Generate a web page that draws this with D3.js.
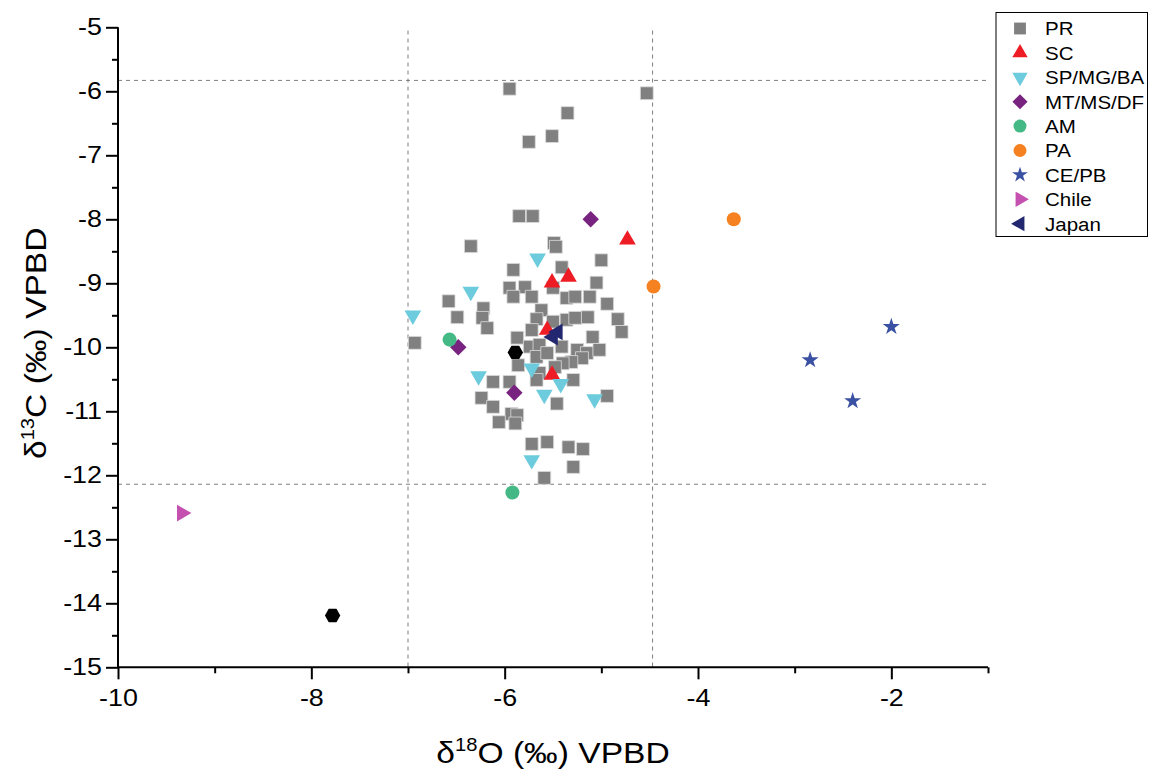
<!DOCTYPE html>
<html>
<head>
<meta charset="utf-8">
<script src="https://cdn.jsdelivr.net/npm/d3@7"></script>
<style>
  body { margin: 0; background: #fff; }
  text { font-family: "Liberation Sans", Arial, sans-serif; }
</style>
</head>
<body>
<div id="chart-area"></div>
<script>
// d18O / d13C values, one pair of arrays per group
const prO = [-5.95,-4.53,-5.35,-5.51,-5.75,-5.85,-5.71,-6.35,-5.49,-5.47,-5.00,-5.41,-5.91,-5.95,-5.79,-5.91,-5.72,-5.50,-5.05,-5.36,
             -5.27,-5.12,-4.94,-6.58,-6.49,-6.22,-6.23,-6.18,-6.93,-5.62,-5.67,-5.72,-5.50,-5.36,-5.27,-5.14,-5.09,-4.83,-4.79,-5.87,
             -5.74,-5.64,-5.67,-5.56,-5.41,-5.25,-5.15,-5.02,-5.20,-5.31,-5.40,-5.48,-5.86,-5.64,-5.67,-5.29,-6.12,-5.95,-6.24,-6.12,
             -5.46,-4.94,-5.93,-5.87,-6.06,-5.89,-5.72,-5.56,-5.34,-5.19,-5.29,-5.59];
const prC = [-5.96,-6.03,-6.34,-6.70,-6.79,-7.95,-7.95,-8.42,-8.37,-8.43,-8.64,-8.75,-8.79,-9.07,-9.06,-9.21,-9.21,-9.07,-8.99,-9.23,
             -9.21,-9.21,-9.32,-9.28,-9.53,-9.39,-9.54,-9.70,-9.93,-9.42,-9.56,-9.73,-9.60,-9.57,-9.54,-9.53,-9.84,-9.56,-9.76,-9.85,
             -9.99,-9.96,-10.15,-10.09,-9.99,-10.04,-10.09,-10.04,-10.17,-10.23,-10.25,-10.31,-10.28,-10.40,-10.51,-10.51,-10.54,-10.54,-10.79,-10.93,
             -10.88,-10.76,-11.04,-11.06,-11.17,-11.19,-11.51,-11.48,-11.56,-11.59,-11.87,-12.04];
const scO = [-4.73,-5.51,-5.34,-5.56,-5.51];
const scC = [-8.32,-8.99,-8.90,-9.73,-10.43];
const spO = [-6.95,-6.35,-5.66,-5.72,-6.27,-5.42,-5.59,-5.07,-5.72];
const spC = [-9.50,-9.13,-8.61,-10.33,-10.45,-10.57,-10.74,-10.81,-11.76];
const mtO = [-5.11,-6.48,-5.90];
const mtC = [-8.00,-10.00,-10.71];
const amO = [-6.57,-5.92];
const amC = [-9.88,-12.27];
const paO = [-3.63,-4.46];
const paC = [-8.00,-9.05];
const ceO = [-2.84,-2.00,-2.40];
const ceC = [-10.20,-9.68,-10.84];
const chO = [-9.34];
const chC = [-12.59];
const jpO = [-5.45,-5.50];
const jpC = [-9.76,-9.84];
const refO = [-5.89,-7.78];          // black hexagons, not in the legend
const refC = [-10.08,-14.19];

const xMajor = [-10,-8,-6,-4,-2];
const xMinor = [-9,-7,-5,-3,-1];
const yMajor = [-15,-14,-13,-12,-11,-10,-9,-8,-7,-6,-5];
const yMinor = [-14.5,-13.5,-12.5,-11.5,-10.5,-9.5,-8.5,-7.5,-6.5,-5.5];
const vLines = [-7, -4.47];
const hLines = [-5.83, -12.14];

// hexagon symbol (d3 has none)
const symbolHex = {
    draw(ctx, size){
        const r = Math.sqrt(size / (1.5 * Math.sqrt(3)));
        for (let i = 0; i < 6; i++) {
            const a = Math.PI / 3 * i;
            const px = r * Math.cos(a), py = r * Math.sin(a);
            i ? ctx.lineTo(px, py) : ctx.moveTo(px, py);
        }
        ctx.closePath();
    }
};

const series = [
    { name:"PR",       o:prO, c:prC, color:"#808080", type:d3.symbolSquare,   size:165, rot:0,   stroke:"#dcdcdc" },
    { name:"SC",       o:scO, c:scC, color:"#ee1c25", type:d3.symbolTriangle, size:120, rot:0 },
    { name:"SP/MG/BA", o:spO, c:spC, color:"#6ccbdc", type:d3.symbolTriangle, size:120, rot:180 },
    { name:"MT/MS/DF", o:mtO, c:mtC, color:"#78237f", type:d3.symbolSquare,   size:135, rot:45 },
    { name:"AM",       o:amO, c:amC, color:"#45b985", type:d3.symbolCircle,   size:155, rot:0 },
    { name:"PA",       o:paO, c:paC, color:"#f68121", type:d3.symbolCircle,   size:155, rot:0 },
    { name:"CE/PB",    o:ceO, c:ceC, color:"#3a51a3", type:d3.symbolStar,     size:90,  rot:0 },
    { name:"Chile",    o:chO, c:chC, color:"#c451b0", type:d3.symbolTriangle, size:120, rot:90 },
    { name:"Japan",    o:jpO, c:jpC, color:"#232770", type:d3.symbolTriangle, size:120, rot:-90 },
    { name:null,       o:refO, c:refC, color:"#000000", type:symbolHex,       size:155, rot:0 }
];

const TX = 1.12;   // text in the figure runs a little wide

const margin = { left:118, right:162, top:27.3, bottom:104.7 };
const width  = 1150 - margin.left - margin.right;
const height = 772 - margin.top - margin.bottom;

const svg = d3.select("#chart-area")
    .append("svg")
    .attr("width", 1150)
    .attr("height", 772);

const g = svg.append("g")
    .attr("transform", `translate(${margin.left}, ${margin.top})`);

const x = d3.scaleLinear().domain([-10, -1]).range([0, width]);
const y = d3.scaleLinear().domain([-15, -5]).range([height, 0]);

/* dashed reference lines */
g.selectAll(".vline").data(vLines).enter().append("line")
    .attr("x1", d => x(d)).attr("x2", d => x(d))
    .attr("y1", y(-5.05)).attr("y2", y(-15))
    .attr("stroke", "#7f7f7f").attr("stroke-width", 1).attr("stroke-dasharray", "4,4");

g.selectAll(".hline").data(hLines).enter().append("line")
    .attr("x1", x(-10)).attr("x2", x(-1))
    .attr("y1", d => y(d)).attr("y2", d => y(d))
    .attr("stroke", "#7f7f7f").attr("stroke-width", 1).attr("stroke-dasharray", "4,4");

/* axes */
const fmt = d => String(d);

const xAxis = g.append("g").attr("transform", `translate(0,${height})`)
    .call(d3.axisBottom(x).tickValues(xMajor).tickSize(12).tickPadding(10).tickFormat(fmt));
g.append("g").attr("transform", `translate(0,${height})`)
    .call(d3.axisBottom(x).tickValues(xMinor).tickSize(6).tickFormat(""))
    .select(".domain").remove();

const yAxis = g.append("g")
    .call(d3.axisLeft(y).tickValues(yMajor).tickSize(12).tickPadding(4).tickFormat(fmt));
g.append("g")
    .call(d3.axisLeft(y).tickValues(yMinor).tickSize(6).tickFormat(""))
    .select(".domain").remove();

g.selectAll(".domain").attr("stroke-width", 2);
xAxis.select(".domain").attr("d", `M0,0H${width}`);
yAxis.select(".domain").attr("d", `M0,0V${height}`);
g.selectAll(".tick line").attr("stroke-width", 2);
g.selectAll(".tick text").attr("font-size", 24).attr("fill", "#000");
xAxis.selectAll(".tick text").attr("transform", `scale(${TX},1)`);
yAxis.selectAll(".tick text").attr("x", 0).attr("transform", `translate(-16,0) scale(${TX},1)`);

/* points */
series.forEach(s => {
    const pts = s.o.map((o, i) => [o, s.c[i]]);
    g.append("g").selectAll("path").data(pts).enter().append("path")
        .attr("d", d3.symbol().type(s.type).size(s.size))
        .attr("transform", d => `translate(${x(d[0])},${y(d[1])}) rotate(${s.rot})`)
        .attr("fill", s.color)
        .attr("stroke", s.stroke || "none")
        .attr("stroke-width", 0.8);
});

/* axis titles */
const yTitle = svg.append("text")
    .attr("transform", `translate(46, ${margin.top + height / 2 - 4}) rotate(-90) scale(${TX},1)`)
    .attr("text-anchor", "middle")
    .attr("font-size", 30);
yTitle.append("tspan").text("\u03B4");
yTitle.append("tspan").attr("font-size", 18).attr("dy", -12).text("13");
yTitle.append("tspan").attr("dy", 12).text("C (\u2030) VPBD");

const xTitle = svg.append("text")
    .attr("transform", `translate(${margin.left + width / 2}, 763) scale(${TX},1)`)
    .attr("text-anchor", "middle")
    .attr("font-size", 30);
xTitle.append("tspan").text("\u03B4");
xTitle.append("tspan").attr("font-size", 18).attr("dy", -12).text("18");
xTitle.append("tspan").attr("dy", 12).text("O (\u2030) VPBD");

/* legend */
const leg = svg.append("g");
leg.append("rect")
    .attr("x", 996).attr("y", 12.5).attr("width", 151.5).attr("height", 224)
    .attr("fill", "#fff").attr("stroke", "#000").attr("stroke-width", 1);

const legRows = series.filter(s => s.name);
legRows.forEach((s, i) => {
    const ly = 28.5 + i * 24.4;
    leg.append("path")
        .attr("d", d3.symbol().type(s.type).size(s.size * 0.85))
        .attr("transform", `translate(1020,${ly}) rotate(${s.rot})`)
        .attr("fill", s.color);
    leg.append("text")
        .attr("transform", `translate(1045,${ly}) scale(1.08,1)`)
        .attr("dy", "0.36em")
        .attr("font-size", 19)
        .text(s.name);
});
</script>
</body>
</html>
